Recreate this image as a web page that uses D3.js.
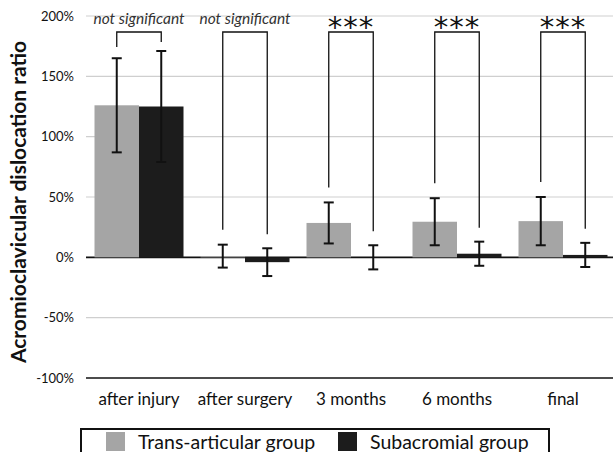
<!DOCTYPE html>
<html>
<head>
<meta charset="utf-8">
<script src="https://cdn.jsdelivr.net/npm/d3@7"></script>
<style>
  body { margin: 0; background: #fff; }
  svg { display: block; font-family: Lato, 'Open Sans', sans-serif; }
</style>
</head>
<body>
<svg id="canvas" width="614" height="452"></svg>
<script>
// data (percent)
let categories = ['after injury', 'after surgery', '3 months', '6 months', 'final']
let seriesNames = ['Trans-articular group', 'Subacromial group']
let transMean = [126, 1, 28.5, 29.5, 30]
let transErr = [39, 9.5, 17, 19.5, 20]
let subMean = [125, -4, 0, 3, 2]
let subErr = [46, 11.5, 10, 10, 10]
let significance = ['not significant', 'not significant', '***', '***', '***']
let yTicks = [-100, -50, 0, 50, 100, 150, 200]

let colors = ['#a5a5a5', '#1c1c1c']

let canvas = d3.select('#canvas')

let plotLeft = 86, plotRight = 616, plotTop = 16, plotBottom = 378

let xScale = d3.scaleBand()
    .domain(categories)
    .range([plotLeft, plotRight])

let xInner = d3.scaleBand()
    .domain([0, 1])
    .range([8.5, xScale.bandwidth() - 8.5])

let yScale = d3.scaleLinear()
    .domain([-100, 200])
    .range([plotBottom, plotTop])

// gridlines
canvas.append('g')
    .selectAll('line')
    .data(yTicks)
    .enter()
    .append('line')
    .attr('x1', plotLeft)
    .attr('x2', 613)
    .attr('y1', (d) => yScale(d))
    .attr('y2', (d) => yScale(d))
    .attr('stroke', (d) => (d === 0 || d === -100) ? '#111' : '#cfcfcf')
    .attr('stroke-width', (d) => (d === 0 || d === -100) ? 1.6 : 1.2)

// y tick labels
canvas.append('g')
    .selectAll('text')
    .data(yTicks)
    .enter()
    .append('text')
    .attr('x', 74)
    .attr('y', (d) => yScale(d) + 4.5)
    .attr('text-anchor', 'end')
    .attr('font-size', 13)
    .attr('fill', '#111')
    .text((d) => d + '%')

// y axis title
canvas.append('text')
    .attr('transform', 'translate(26,' + ((plotTop + plotBottom) / 2 + 5) + ') rotate(-90)')
    .attr('text-anchor', 'middle')
    .attr('font-size', 21)
    .attr('font-weight', 'bold')
    .attr('fill', '#111')
    .text('Acromioclavicular dislocation ratio')

let rows = categories.map((c, i) => {
    return {
        category: c,
        sig: significance[i],
        values: [
            { s: 0, mean: transMean[i], err: transErr[i] },
            { s: 1, mean: subMean[i], err: subErr[i] }
        ]
    }
})

let groups = canvas.selectAll('g.group')
    .data(rows)
    .enter()
    .append('g')
    .attr('class', 'group')
    .attr('transform', (d) => 'translate(' + xScale(d.category) + ',0)')

// bars
groups.selectAll('rect')
    .data((d) => d.values)
    .enter()
    .append('rect')
    .attr('x', (d) => xInner(d.s))
    .attr('width', xInner.bandwidth())
    .attr('y', (d) => yScale(Math.max(0, d.mean)))
    .attr('height', (d) => Math.abs(yScale(d.mean) - yScale(0)))
    .attr('fill', (d) => colors[d.s])

// error bars
let errs = groups.selectAll('g.err')
    .data((d) => d.values)
    .enter()
    .append('g')
    .attr('class', 'err')
    .attr('stroke', '#111')
    .attr('stroke-width', 2)

let cx = (d) => xInner(d.s) + xInner.bandwidth() / 2

errs.append('line')
    .attr('x1', cx).attr('x2', cx)
    .attr('y1', (d) => yScale(d.mean + d.err))
    .attr('y2', (d) => yScale(d.mean - d.err))
errs.append('line')
    .attr('x1', (d) => cx(d) - 5).attr('x2', (d) => cx(d) + 5)
    .attr('y1', (d) => yScale(d.mean + d.err))
    .attr('y2', (d) => yScale(d.mean + d.err))
errs.append('line')
    .attr('x1', (d) => cx(d) - 5).attr('x2', (d) => cx(d) + 5)
    .attr('y1', (d) => yScale(d.mean - d.err))
    .attr('y2', (d) => yScale(d.mean - d.err))

// significance brackets
let bracketY = 32
groups.append('path')
    .attr('fill', 'none')
    .attr('stroke', '#111')
    .attr('stroke-width', 1.3)
    .attr('d', (d) => {
        let a = d.values[0], b = d.values[1]
        let ya = Math.max(bracketY + 15, yScale(a.mean + a.err) - 15)
        let yb = Math.max(bracketY + 10, yScale(b.mean + b.err) - 14)
        return 'M' + cx(a) + ',' + ya + 'V' + bracketY + 'H' + cx(b) + 'V' + yb
    })

groups.append('text')
    .attr('x', xScale.bandwidth() / 2)
    .attr('y', (d) => d.sig === '***' ? 37 : 24)
    .attr('text-anchor', 'middle')
    .attr('font-size', (d) => d.sig === '***' ? 29 : 15.5)
    .attr('font-style', (d) => d.sig === '***' ? 'normal' : 'italic')
    .attr('letter-spacing', (d) => d.sig === '***' ? 1 : 0)
    .attr('font-family', (d) => d.sig === '***' ? 'DejaVu Sans' : null)
    .attr('fill', (d) => d.sig === '***' ? '#111' : '#333')
    .text((d) => d.sig)

// category labels
canvas.append('g')
    .selectAll('text')
    .data(categories)
    .enter()
    .append('text')
    .attr('x', (d) => xScale(d) + xScale.bandwidth() / 2)
    .attr('y', 405)
    .attr('text-anchor', 'middle')
    .attr('font-size', 17)
    .attr('fill', '#111')
    .text((d) => d)

// legend
let legend = canvas.append('g')
legend.append('rect')
    .attr('x', 81).attr('y', 429)
    .attr('width', 468).attr('height', 40)
    .attr('fill', '#fff')
    .attr('stroke', '#111')
    .attr('stroke-width', 2)

let legendX = [106, 338]
seriesNames.forEach((name, i) => {
    legend.append('rect')
        .attr('x', legendX[i]).attr('y', 432)
        .attr('width', 19).attr('height', 19)
        .attr('fill', colors[i])
    legend.append('text')
        .attr('x', legendX[i] + 32)
        .attr('y', 449)
        .attr('font-size', 19.5)
        .attr('fill', '#111')
        .text(name)
})
</script>
</body>
</html>
